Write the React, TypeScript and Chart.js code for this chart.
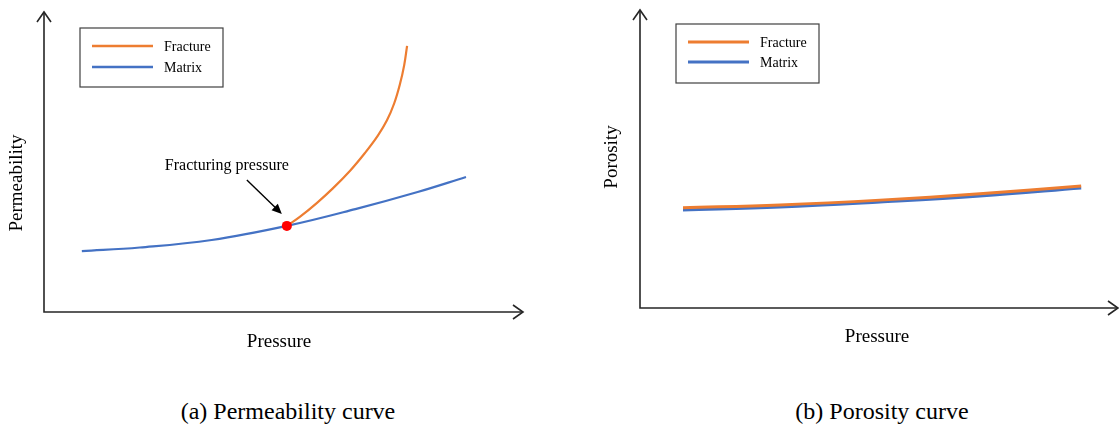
import React, { useEffect, useRef } from 'react';
import { Chart, registerables } from 'chart.js';

Chart.register(...registerables);

const FONT = '"Liberation Serif", "Times New Roman", serif';
const ORANGE = '#ED7D31';
const BLUE = '#4472C4';
const AXIS = '#262626';

// ---- Panel (a): permeability ----
const matrixPressureA = [7.9, 20.0, 35.0, 50.7, 65.0, 78.0, 88.1];
const matrixPermA = [20.3, 21.5, 24.0, 28.7, 34.3, 40.0, 45.0];
const fracturePressureA = [50.7, 53.4, 57.0, 60.3, 63.9, 67.0, 69.7, 71.6, 73.1, 74.3, 75.2, 75.8];
const fracturePermA = [28.7, 31.7, 36.4, 41.2, 47.1, 53.0, 58.8, 63.9, 69.5, 75.9, 82.3, 88.7];
const fracturingPressure = [50.7];
const fracturingPerm = [28.7];

// ---- Panel (b): porosity ----
const pressureB = [9.0, 29.3, 50.2, 71.1, 92.3];
const fracturePorB = [33.6, 34.6, 36.2, 38.3, 40.9];
const matrixPorB = [32.9, 33.9, 35.6, 37.6, 40.3];

const seriesLabels = ['Fracture', 'Matrix'];
const captions = ['(a) Permeability curve', '(b) Porosity curve'];
const yTitles = ['Permeability', 'Porosity'];
const xTitle = 'Pressure';
const annotationText = 'Fracturing pressure';

const toXY = (xs: number[], ys: number[]) => xs.map((x, i) => ({ x, y: ys[i] }));

const decorPlugin = {
  id: 'decor',
  beforeDatasetsDraw(chart: any, _args: any, opts: any) {
    const { ctx, chartArea: ca } = chart;
    ctx.save();
    ctx.strokeStyle = AXIS;
    ctx.lineWidth = 1.6;
    ctx.lineCap = 'butt';
    ctx.beginPath();
    ctx.moveTo(ca.left, ca.top);
    ctx.lineTo(ca.left, ca.bottom);
    ctx.lineTo(ca.right, ca.bottom);
    ctx.stroke();
    ctx.beginPath();
    ctx.moveTo(ca.left - 7, ca.top + 10);
    ctx.lineTo(ca.left, ca.top);
    ctx.lineTo(ca.left + 7, ca.top + 10);
    ctx.moveTo(ca.right - 10, ca.bottom - 7);
    ctx.lineTo(ca.right, ca.bottom);
    ctx.lineTo(ca.right - 10, ca.bottom + 7);
    ctx.stroke();

    // axis titles
    ctx.fillStyle = '#000';
    ctx.font = `19px ${FONT}`;
    ctx.textAlign = 'center';
    ctx.textBaseline = 'middle';
    ctx.fillText(opts.xTitle, opts.xTitlePos[0], opts.xTitlePos[1]);
    ctx.save();
    ctx.translate(opts.yTitlePos[0], opts.yTitlePos[1]);
    ctx.rotate(-Math.PI / 2);
    ctx.fillText(opts.yTitle, 0, 0);
    ctx.restore();

    // legend box
    const bx = ca.left + opts.legendOffset[0];
    const by = ca.top + opts.legendOffset[1];
    ctx.strokeStyle = '#404040';
    ctx.lineWidth = 1.2;
    ctx.strokeRect(bx, by, 143, 59);
    ctx.font = `14px ${FONT}`;
    ctx.textAlign = 'left';
    let row = 0;
    chart.data.datasets.forEach((ds: any) => {
      if (!ds.label) return;
      const yy = by + 18 + row * opts.legendRowGap;
      ctx.strokeStyle = ds.borderColor;
      ctx.lineWidth = opts.legendLineWidth;
      ctx.beginPath();
      ctx.moveTo(bx + 12, yy);
      ctx.lineTo(bx + 73, yy);
      ctx.stroke();
      ctx.fillStyle = '#000';
      ctx.fillText(ds.label, bx + 84, yy + 1);
      row++;
    });
    ctx.restore();
  },
  afterDraw(chart: any, _args: any, opts: any) {
    if (!opts.annotate) return;
    const { ctx } = chart;
    const px = chart.scales.x.getPixelForValue(fracturingPressure[0]);
    const py = chart.scales.y.getPixelForValue(fracturingPerm[0]);
    ctx.save();
    ctx.fillStyle = '#000';
    ctx.font = `16px ${FONT}`;
    ctx.textAlign = 'left';
    ctx.textBaseline = 'middle';
    ctx.fillText(annotationText, px - 122, py - 60);
    // arrow
    const sx = px - 40, sy = py - 46;
    const ex = px - 5, ey = py - 12;
    const ang = Math.atan2(ey - sy, ex - sx);
    ctx.strokeStyle = '#000';
    ctx.lineWidth = 1.4;
    ctx.beginPath();
    ctx.moveTo(sx, sy);
    ctx.lineTo(ex - 7 * Math.cos(ang), ey - 7 * Math.sin(ang));
    ctx.stroke();
    ctx.beginPath();
    ctx.moveTo(ex, ey);
    ctx.lineTo(ex - 10 * Math.cos(ang) + 4.5 * Math.sin(ang), ey - 10 * Math.sin(ang) - 4.5 * Math.cos(ang));
    ctx.lineTo(ex - 10 * Math.cos(ang) - 4.5 * Math.sin(ang), ey - 10 * Math.sin(ang) + 4.5 * Math.cos(ang));
    ctx.closePath();
    ctx.fill();
    ctx.restore();
  },
};

function makeOptions(padding: any, decor: any) {
  return {
    responsive: false,
    animation: false as const,
    layout: { padding },
    plugins: {
      legend: { display: false },
      tooltip: { enabled: false },
      decor,
    },
    scales: {
      x: { type: 'linear' as const, min: 0, max: 100, display: false },
      y: { type: 'linear' as const, min: 0, max: 100, display: false },
    },
    elements: { point: { radius: 0 } },
  };
}

export default function App() {
  const refA = useRef<HTMLCanvasElement>(null);
  const refB = useRef<HTMLCanvasElement>(null);

  useEffect(() => {
    const chartA = new Chart(refA.current as HTMLCanvasElement, {
      type: 'line',
      data: {
        datasets: [
          {
            data: toXY(fracturingPressure, fracturingPerm),
            pointRadius: 5,
            pointBackgroundColor: '#FF0000',
            pointBorderColor: '#FF0000',
            pointBorderWidth: 0,
            showLine: false,
          } as any,
          {
            label: seriesLabels[0],
            data: toXY(fracturePressureA, fracturePermA),
            borderColor: ORANGE,
            borderWidth: 2.2,
            tension: 0.4,
            fill: false,
          },
          {
            label: seriesLabels[1],
            data: toXY(matrixPressureA, matrixPermA),
            borderColor: BLUE,
            borderWidth: 2.2,
            tension: 0.4,
            fill: false,
          },
        ],
      },
      options: makeOptions(
        { left: 44, top: 12, right: 37, bottom: 48 },
        {
          xTitle,
          yTitle: yTitles[0],
          xTitlePos: [279, 342],
          yTitlePos: [17, 183],
          legendOffset: [36, 16],
          legendRowGap: 21,
          legendLineWidth: 2.6,
          annotate: true,
        }
      ) as any,
      plugins: [decorPlugin],
    });

    const chartB = new Chart(refB.current as HTMLCanvasElement, {
      type: 'line',
      data: {
        datasets: [
          {
            label: seriesLabels[0],
            data: toXY(pressureB, fracturePorB),
            borderColor: ORANGE,
            borderWidth: 3,
            tension: 0.4,
            fill: false,
          },
          {
            label: seriesLabels[1],
            data: toXY(pressureB, matrixPorB),
            borderColor: BLUE,
            borderWidth: 3,
            tension: 0.4,
            fill: false,
          },
        ],
      },
      options: makeOptions(
        { left: 80, top: 10, right: 1, bottom: 52 },
        {
          xTitle,
          yTitle: yTitles[1],
          xTitlePos: [317, 337],
          yTitlePos: [52, 157],
          legendOffset: [36, 14],
          legendRowGap: 20,
          legendLineWidth: 3,
          annotate: false,
        }
      ) as any,
      plugins: [decorPlugin],
    });

    return () => {
      chartA.destroy();
      chartB.destroy();
    };
  }, []);

  const captionStyle = (cx: number): React.CSSProperties => ({
    position: 'absolute',
    left: cx - 200,
    width: 400,
    top: 396,
    textAlign: 'center',
    fontFamily: FONT,
    fontSize: 24,
    lineHeight: '30px',
    color: '#000',
    whiteSpace: 'nowrap',
  });

  return (
    <div style={{ position: 'absolute', left: 0, top: 0, width: 1119, height: 428, background: '#fff', overflow: 'hidden' }}>
      <canvas ref={refA} width={560} height={360} style={{ position: 'absolute', left: 0, top: 0, width: 560, height: 360 }} />
      <canvas ref={refB} width={559} height={360} style={{ position: 'absolute', left: 560, top: 0, width: 559, height: 360 }} />
      <div style={captionStyle(288)}>{captions[0]}</div>
      <div style={captionStyle(882)}>{captions[1]}</div>
    </div>
  );
}
